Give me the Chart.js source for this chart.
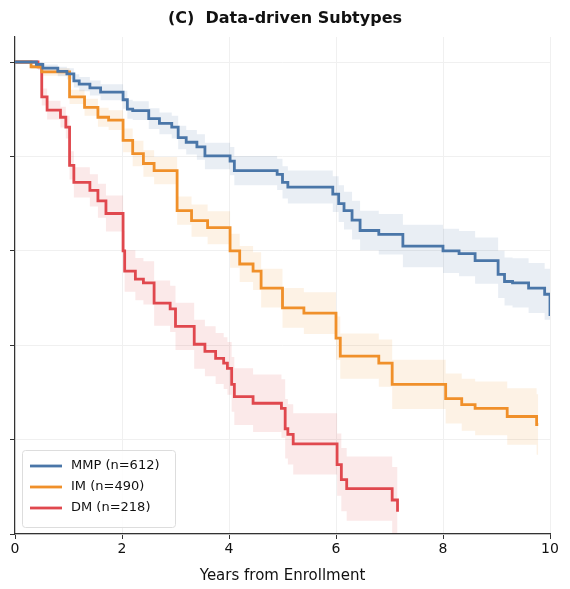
<!DOCTYPE html>
<html><head><meta charset="utf-8">
<script src="https://cdn.jsdelivr.net/npm/chart.js@4"></script>
<style>html,body{margin:0;padding:0;background:#fff}#w{width:570px;height:589px}</style>
</head><body><div id="w"><canvas id="c"></canvas></div>
<script>
const labels = ["MMP (n=612)", "IM (n=490)", "DM (n=218)"];
const colors = ["#4a76a8", "#f0902a", "#e0484e"];
const mmpT = [0,0.4,0.52,0.8,0.97,1.1,1.2,1.4,1.6,2.02,2.1,2.2,2.5,2.7,2.93,3.05,3.2,3.4,3.55,4.02,4.1,4.9,5.0,5.1,5.94,6.05,6.15,6.3,6.45,6.8,7.25,8.0,8.3,8.6,9.03,9.15,9.3,9.6,9.9,10.0];
const mmpS = [1,0.995,0.987,0.98,0.975,0.96,0.953,0.945,0.936,0.92,0.9,0.897,0.88,0.87,0.862,0.84,0.83,0.82,0.801,0.79,0.77,0.762,0.745,0.735,0.72,0.70,0.685,0.665,0.643,0.635,0.61,0.60,0.594,0.579,0.55,0.535,0.532,0.521,0.508,0.462];
const mmpH = [0,0.005,0.008,0.01,0.012,0.014,0.015,0.016,0.017,0.019,0.02,0.02,0.022,0.023,0.024,0.025,0.026,0.027,0.028,0.03,0.031,0.033,0.034,0.035,0.038,0.039,0.04,0.041,0.042,0.043,0.045,0.047,0.048,0.049,0.05,0.051,0.052,0.053,0.054,0.06];
const imT = [0,0.3,0.5,1.02,1.3,1.55,1.75,2.02,2.2,2.4,2.6,3.03,3.3,3.6,4.02,4.2,4.45,4.6,5.0,5.4,6.0,6.08,6.8,7.05,8.05,8.35,8.6,9.2,9.75,9.78];
const imS = [1,0.99,0.979,0.926,0.904,0.883,0.877,0.834,0.806,0.785,0.77,0.685,0.664,0.649,0.6,0.572,0.557,0.521,0.479,0.468,0.415,0.377,0.362,0.317,0.287,0.274,0.266,0.249,0.232,0.232];
const imH = [0,0.005,0.008,0.015,0.018,0.02,0.021,0.025,0.027,0.028,0.029,0.03,0.034,0.035,0.036,0.038,0.04,0.041,0.042,0.044,0.046,0.048,0.05,0.052,0.053,0.055,0.057,0.06,0.064,0.065];
const dmT = [0,0.43,0.5,0.6,0.85,0.95,1.02,1.1,1.4,1.55,1.7,2.02,2.05,2.25,2.4,2.6,2.9,3.0,3.35,3.55,3.75,3.9,3.97,4.05,4.1,4.45,4.98,5.05,5.1,5.2,6.02,6.1,6.2,7.05,7.15];
const dmS = [1,0.99,0.926,0.898,0.883,0.862,0.781,0.745,0.728,0.706,0.679,0.6,0.557,0.54,0.532,0.489,0.477,0.44,0.402,0.387,0.372,0.362,0.351,0.317,0.291,0.277,0.266,0.223,0.211,0.191,0.147,0.115,0.096,0.072,0.047];
const dmH = [0,0.007,0.018,0.02,0.022,0.024,0.03,0.032,0.034,0.036,0.038,0.042,0.044,0.045,0.046,0.048,0.049,0.05,0.052,0.053,0.054,0.055,0.056,0.058,0.06,0.061,0.062,0.063,0.064,0.065,0.066,0.067,0.068,0.07,0.05];
const xTicks = [0,2,4,6,8,10];

const groups = [[mmpT,mmpS,mmpH],[imT,imS,imH],[dmT,dmS,dmH]];
const datasets = [];
groups.forEach(([t,s,h],i)=>{
  const band = colors[i] + "1f";
  datasets.push({label:'_u'+i, data:t.map((x,k)=>({x, y:Math.min(1,s[k]+h[k])})), stepped:'before', borderWidth:0, pointRadius:0, backgroundColor:band, fill:'+1', order:5});
  datasets.push({label:'_l'+i, data:t.map((x,k)=>({x, y:Math.max(0,s[k]-h[k])})), stepped:'before', borderWidth:0, pointRadius:0, backgroundColor:band, fill:false, order:5});
});
groups.forEach(([t,s],i)=>{
  datasets.push({label:labels[i], data:t.map((x,k)=>({x,y:s[k]})), stepped:'before', borderColor:colors[i], borderWidth:2.8, pointRadius:0, fill:false, order:1});
});

const deco = {
  id:'deco',
  afterDraw(chart){
    const ctx = chart.ctx;
    ctx.save();
    ctx.fillStyle='#111'; ctx.font='bold 16px "DejaVu Sans"'; ctx.textAlign='center'; ctx.textBaseline='middle';
    ctx.fillText('(C)  Data-driven Subtypes', 285, 19);
    const x0=22,y0=450,w=153,h=77;
    ctx.fillStyle='rgba(255,255,255,0.85)'; ctx.strokeStyle='#ddd'; ctx.lineWidth=1;
    ctx.beginPath(); ctx.roundRect(x0+0.5,y0+0.5,w,h,3); ctx.fill(); ctx.stroke();
    ctx.font='13px "DejaVu Sans"'; ctx.textAlign='left';
    labels.forEach((l,i)=>{
      const y=y0+16+i*21;
      ctx.strokeStyle=colors[i]; ctx.lineWidth=2.8;
      ctx.beginPath(); ctx.moveTo(30,y); ctx.lineTo(62,y); ctx.stroke();
      ctx.fillStyle='#111'; ctx.fillText(l,71,y);
    });
    ctx.restore();
  }
};

new Chart(document.getElementById('c'), {
  type:'line',
  data:{datasets},
  options:{
    responsive:true, maintainAspectRatio:false, animation:false,
    layout:{padding:{top:37,right:20,left:0,bottom:0}},
    plugins:{legend:{display:false}, title:{display:false}, tooltip:{enabled:false}},
    scales:{
      x:{type:'linear', min:0, max:10,
        afterBuildTicks:s=>{s.ticks=xTicks.map(v=>({value:v}));},
        afterFit:s=>{s.height=55;},
        grid:{color:'#f0f0f0', tickLength:5, tickColor:'#333'},
        border:{color:'#333', width:1.2},
        ticks:{color:'#111', font:{size:14, family:'DejaVu Sans'}, padding:2, maxRotation:0},
        title:{display:true, text:'Years from Enrollment', color:'#111', font:{size:15, family:'DejaVu Sans'}, padding:{top:0}}
      },
      y:{min:0, max:1.053,
        afterBuildTicks:s=>{s.ticks=[0,0.2,0.4,0.6,0.8,1.0].map(v=>({value:v}));},
        afterFit:s=>{s.width=15;},
        grid:{color:'#f0f0f0', tickLength:5, tickColor:'#333'},
        border:{color:'#333', width:1.2},
        ticks:{callback:()=>'', padding:0}
      }
    }
  },
  plugins:[deco]
});
</script></body></html>
